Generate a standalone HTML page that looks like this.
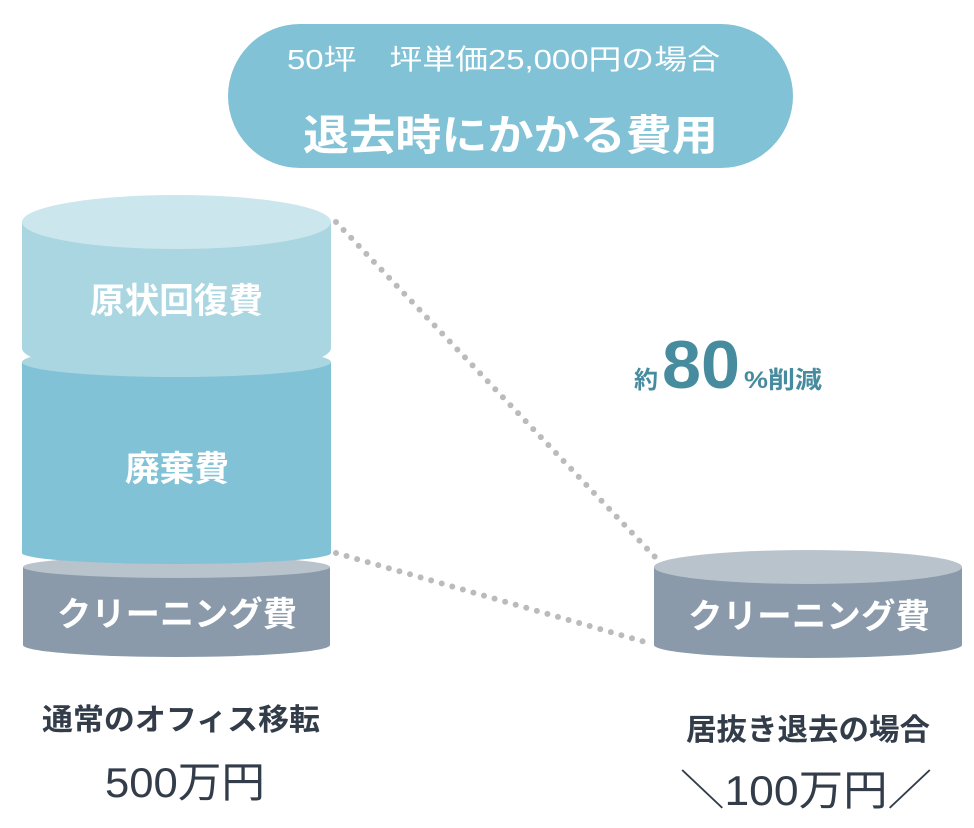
<!DOCTYPE html>
<html><head><meta charset="utf-8"><style>
html,body{margin:0;padding:0;background:#fff;}
svg{display:block;font-family:"Liberation Sans","Noto Sans CJK JP",sans-serif;}
</style></head><body>
<svg width="974" height="828" viewBox="0 0 974 828" xmlns="http://www.w3.org/2000/svg">
<rect x="228" y="24" width="565" height="144" rx="72" fill="#82c2d6"/>
<text x="287" y="69" font-size="28" fill="#fff" textLength="433" lengthAdjust="spacingAndGlyphs">50坪　坪単価25,000円の場合</text>
<text x="303" y="150" font-size="42" font-weight="bold" fill="#fff" textLength="415" lengthAdjust="spacingAndGlyphs">退去時にかかる費用</text>

<line x1="336" y1="222" x2="656" y2="558" stroke="#bbb" stroke-width="6" stroke-linecap="round" stroke-dasharray="0 11"/>
<line x1="336" y1="553" x2="652" y2="644" stroke="#bbb" stroke-width="6" stroke-linecap="round" stroke-dasharray="0 11"/>

<rect x="23" y="567" width="307" height="78" fill="#8a9aaa"/>
<ellipse cx="176.5" cy="645" rx="153.5" ry="12" fill="#8a9aaa"/>
<ellipse cx="176.5" cy="567" rx="153.5" ry="11" fill="#b8c3cc"/>
<rect x="22" y="362" width="309" height="191" fill="#82c2d6"/>
<ellipse cx="176.5" cy="553" rx="154.5" ry="11" fill="#82c2d6"/>
<ellipse cx="176.5" cy="362" rx="154.5" ry="15" fill="#a9d6e1"/>
<rect x="22" y="222" width="309" height="126" fill="#a9d6e1"/>
<ellipse cx="176.5" cy="348" rx="154.5" ry="27" fill="#a9d6e1"/>
<ellipse cx="176.5" cy="222" rx="154.5" ry="27" fill="#cbe6ec"/>

<text x="90" y="313" font-size="35" font-weight="bold" fill="#fff" textLength="173" lengthAdjust="spacingAndGlyphs">原状回復費</text>
<text x="125" y="481" font-size="35" font-weight="bold" fill="#fff" textLength="104" lengthAdjust="spacingAndGlyphs">廃棄費</text>
<text x="57" y="626" font-size="34" font-weight="bold" fill="#fff" textLength="240" lengthAdjust="spacingAndGlyphs">クリーニング費</text>

<rect x="654" y="567" width="308" height="78" fill="#8a9aaa"/>
<ellipse cx="808" cy="645" rx="154" ry="13" fill="#8a9aaa"/>
<ellipse cx="808" cy="567" rx="154" ry="17" fill="#b8c3cc"/>
<text x="688" y="628" font-size="34" font-weight="bold" fill="#fff" textLength="242" lengthAdjust="spacingAndGlyphs">クリーニング費</text>

<text x="634" y="388" font-size="24" font-weight="bold" fill="#478b9e">約</text>
<text x="662" y="388" font-size="68" font-weight="bold" fill="#478b9e" textLength="78" lengthAdjust="spacingAndGlyphs">80</text>
<text x="744" y="388" font-size="24" font-weight="bold" fill="#478b9e" textLength="78" lengthAdjust="spacingAndGlyphs">%削減</text>

<text x="42" y="730" font-size="30" font-weight="bold" fill="#333d4a" textLength="278" lengthAdjust="spacingAndGlyphs">通常のオフィス移転</text>
<text x="105" y="797" font-size="42" fill="#333d4a" textLength="160" lengthAdjust="spacingAndGlyphs">500万円</text>
<text x="686" y="740" font-size="30" font-weight="bold" fill="#333d4a" textLength="244" lengthAdjust="spacingAndGlyphs">居抜き退去の場合</text>
<text x="680" y="805" font-size="42" fill="#333d4a" textLength="252" lengthAdjust="spacingAndGlyphs">＼100万円／</text>
</svg>
</body></html>
